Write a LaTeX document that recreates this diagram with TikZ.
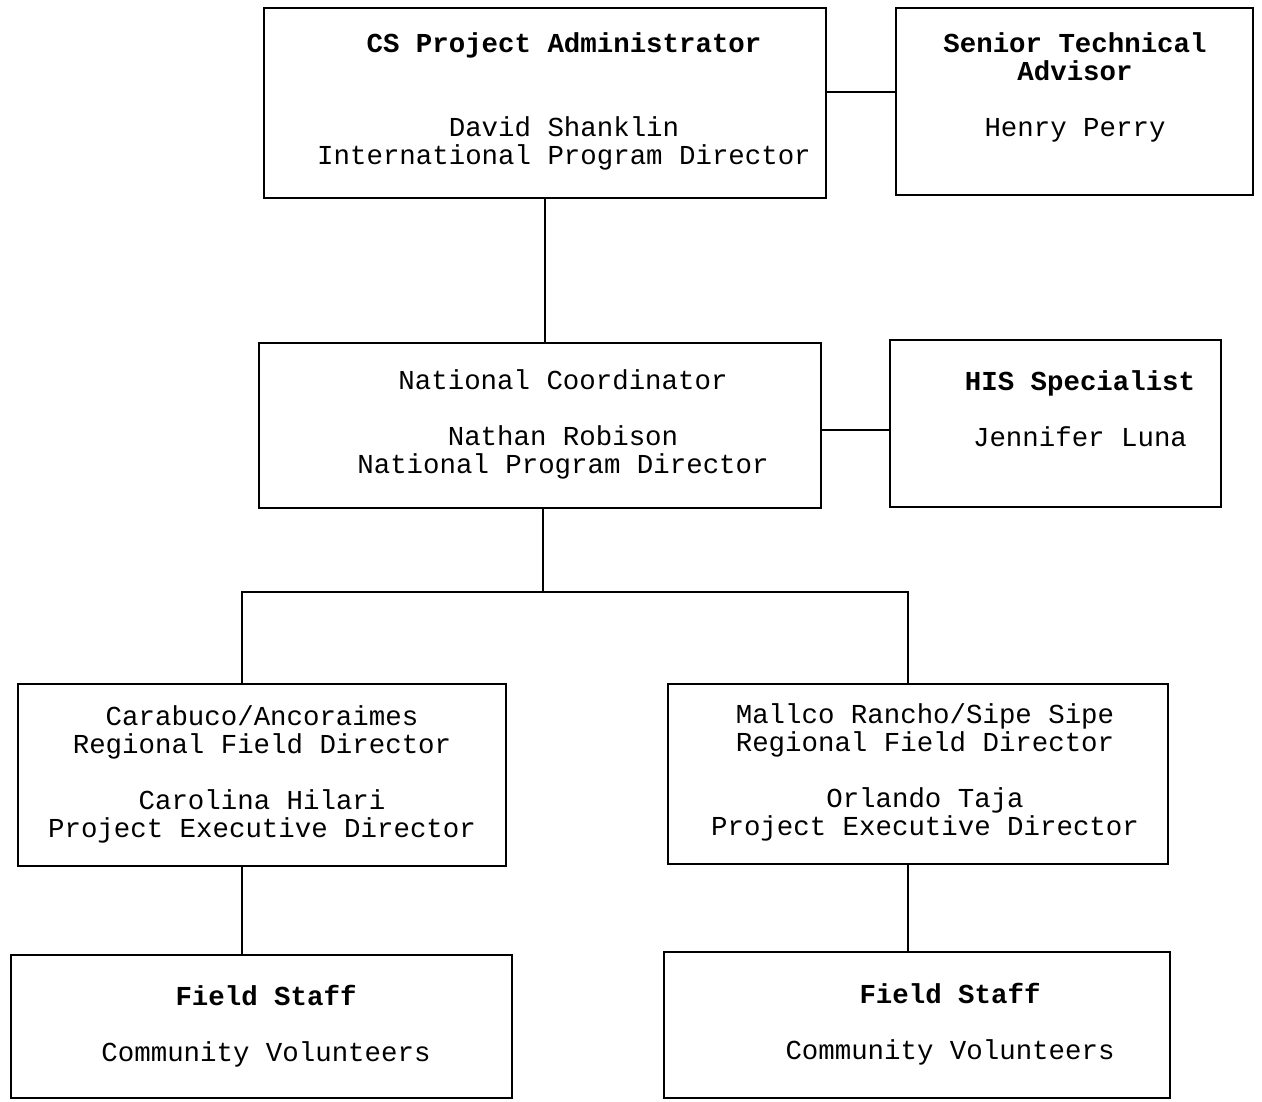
\documentclass[tikz,border=0pt]{standalone}
\usepackage{fontspec}
\setmonofont{Liberation Mono}
\usetikzlibrary{positioning,calc}

\begin{document}
\begin{tikzpicture}[
    box/.style={rectangle, draw, line width=1pt, inner sep=0pt},
    txt/.style={align=center, font=\ttfamily\fontsize{15.6}{15.9}\selectfont, inner sep=0pt},
    link/.style={line width=1pt}
]
\useasboundingbox (0,0) rectangle (25.24,-22.02);

% Top level
\node[box, minimum width=11.24cm, minimum height=3.8cm] (admin) at (10.9,-2.06) {};
\node[box, minimum width=7.14cm, minimum height=3.74cm] (advisor) at (21.49,-2.03) {};
\node[txt] (admintext) at (11.28,-2.03) {\textbf{CS Project Administrator}\\[32.3pt]
  David Shanklin\\International Program Director};
\node[txt] (advisortext) at (21.5,-1.75) {\textbf{Senior Technical}\\\textbf{Advisor}\\[16pt]
  Henry Perry};

% National level
\node[box, minimum width=11.24cm, minimum height=3.3cm] (natl) at (10.8,-8.51) {};
\node[box, minimum width=6.62cm, minimum height=3.34cm] (his) at (21.11,-8.47) {};
\node[txt] (natltext) at (11.26,-8.48) {National Coordinator\\[16pt]
  Nathan Robison\\National Program Director};
\node[txt] (histext) at (21.6,-8.18) {\textbf{HIS Specialist}\\[16pt]Jennifer Luna};

% Regional level
\node[box, minimum width=9.76cm, minimum height=3.64cm] (carabuco) at (5.24,-15.5) {};
\node[box, minimum width=10cm, minimum height=3.6cm] (mallco) at (18.36,-15.48) {};
\node[txt] (carabucotext) at (5.24,-15.48) {Carabuco/Ancoraimes\\Regional Field Director\\[16pt]
  Carolina Hilari\\Project Executive Director};
\node[txt] (mallcotext) at (18.5,-15.44) {Mallco Rancho/Sipe Sipe\\Regional Field Director\\[16pt]
  Orlando Taja\\Project Executive Director};

% Field staff
\node[box, minimum width=10.02cm, minimum height=2.86cm] (staffa) at (5.23,-20.53) {};
\node[box, minimum width=10.12cm, minimum height=2.92cm] (staffb) at (18.34,-20.5) {};
\node[txt] (staffatext) at (5.32,-20.52) {\textbf{Field Staff}\\[16pt]Community Volunteers};
\node[txt] (staffbtext) at (19.0,-20.48) {\textbf{Field Staff}\\[16pt]Community Volunteers};

% Connectors
\draw[link] ([yshift=0.22cm]admin.east) -- ([yshift=0.22cm]admin.east -| advisor.west);
\draw[link] (admin.south) -- (admin.south |- natl.north);
\draw[link] ([yshift=-0.09cm]natl.east) -- ([yshift=-0.09cm]natl.east -| his.west);
\coordinate (bus) at ($(natl.south)+(0.06,-1.66)$);
\draw[link] ([xshift=0.06cm]natl.south) -- (bus);
\draw[link] (bus) -| ([xshift=-0.4cm]carabuco.north);
\draw[link] (bus) -| ([xshift=-0.2cm]mallco.north);
\draw[link] ([xshift=-0.4cm]carabuco.south) -- ([xshift=-0.4cm]carabuco.south |- staffa.north);
\draw[link] ([xshift=-0.2cm]mallco.south) -- ([xshift=-0.2cm]mallco.south |- staffb.north);

\end{tikzpicture}
\end{document}
